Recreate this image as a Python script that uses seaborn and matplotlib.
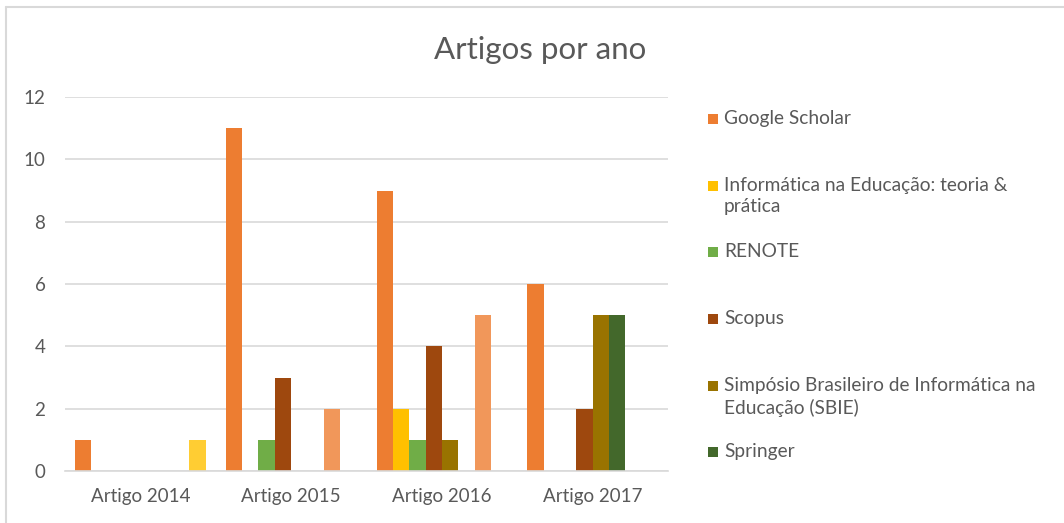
import matplotlib.pyplot as plt
import matplotlib.patches as mpatches
import matplotlib.lines as mlines
import pandas as pd
import seaborn as sns

# data
categories = ["Artigo 2014", "Artigo 2015", "Artigo 2016", "Artigo 2017"]
series_names = [
    "Google Scholar",
    "Informática na Educação: teoria & prática",
    "RENOTE",
    "Scopus",
    "Simpósio Brasileiro de Informática na Educação (SBIE)",
    "Springer",
    "Série 7",
    "Série 8",
]
google_scholar = [1, 11, 9, 6]
informatica_educacao = [0, 0, 2, 0]
renote = [0, 1, 1, 0]
scopus = [0, 3, 4, 2]
sbie = [0, 0, 1, 5]
springer = [0, 0, 0, 5]
serie_7 = [0, 2, 5, 0]
serie_8 = [1, 0, 0, 0]
legend_labels = [
    "Google Scholar",
    "Informática na Educação: teoria &\nprática",
    "RENOTE",
    "Scopus",
    "Simpósio Brasileiro de Informática na\nEducação (SBIE)",
    "Springer",
]

colors = ["#ED7D31", "#FFC000", "#70AD47", "#9E480E",
          "#997300", "#43682B", "#F1975A", "#FFCD33"]

values = [google_scholar, informatica_educacao, renote, scopus,
          sbie, springer, serie_7, serie_8]
rows = []
for name, vals in zip(series_names, values):
    for cat, v in zip(categories, vals):
        rows.append({"categoria": cat, "fonte": name, "artigos": v})
df = pd.DataFrame(rows)

sns.set_style("white")
plt.rcParams["font.family"] = ["Lato", "DejaVu Sans"]
text_color = "#595959"

fig = plt.figure(figsize=(10.64, 5.23), dpi=100)
ax = fig.add_axes([0.061, 0.0994, 0.567, 0.7151])

sns.barplot(data=df, x="categoria", y="artigos", hue="fonte",
            order=categories, hue_order=series_names,
            palette=colors, width=0.866, linewidth=0,
            saturation=1, legend=False, ax=ax)

ax.set_xlim(-0.5, 3.5)
ax.set_ylim(0, 12)
ax.set_yticks(range(0, 13, 2))
ax.yaxis.grid(True, color="#D9D9D9", linewidth=1.2)
ax.set_axisbelow(True)
for s in ["top", "right", "left"]:
    ax.spines[s].set_visible(False)
ax.spines["bottom"].set_color("#D9D9D9")
ax.spines["bottom"].set_linewidth(1.2)
ax.set_xlabel("")
ax.set_ylabel("")
ax.tick_params(axis="both", length=0, colors=text_color, labelsize=13.5)
ax.tick_params(axis="y", pad=14)
ax.tick_params(axis="x", pad=12)

fig.text(0.508, 0.905, "Artigos por ano", ha="center", va="center",
         fontsize=22.5, color=text_color)

# legend drawn by hand to keep the even Excel spacing
leg_y = [119, 186, 252, 319, 386, 452]
for i, (lab, col) in enumerate(zip(legend_labels, colors[:6])):
    y = 1 - leg_y[i] / 523
    fig.patches.append(mpatches.Rectangle((708 / 1064, y - 5 / 523), 10 / 1064, 10 / 523,
                                          transform=fig.transFigure,
                                          facecolor=col, edgecolor="none"))
    fig.text(724 / 1064, y + 9 / 523, lab, ha="left", va="top",
             fontsize=13.8, color=text_color, linespacing=1.3)

# chart border
fig.add_artist(mlines.Line2D([6 / 1064, 6 / 1064], [0, 1 - 7 / 523],
                             transform=fig.transFigure, color="#D9D9D9", lw=1.5))
fig.add_artist(mlines.Line2D([6 / 1064, 1], [1 - 7 / 523, 1 - 7 / 523],
                             transform=fig.transFigure, color="#D9D9D9", lw=1.5))

fig.savefig("out.png", dpi=100)
